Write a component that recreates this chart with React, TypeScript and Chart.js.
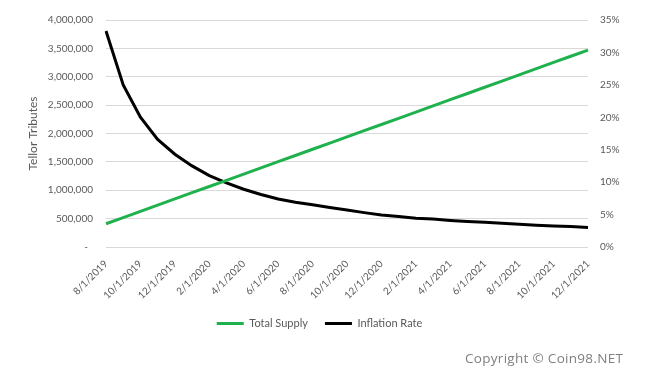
import React, { useEffect, useRef } from 'react';
import { Chart, registerables } from 'chart.js';
Chart.register(...registerables);

const categories = [
  '8/1/2019', '9/1/2019', '10/1/2019', '11/1/2019', '12/1/2019',
  '1/1/2020', '2/1/2020', '3/1/2020', '4/1/2020', '5/1/2020', '6/1/2020',
  '7/1/2020', '8/1/2020', '9/1/2020', '10/1/2020', '11/1/2020', '12/1/2020',
  '1/1/2021', '2/1/2021', '3/1/2021', '4/1/2021', '5/1/2021', '6/1/2021',
  '7/1/2021', '8/1/2021', '9/1/2021', '10/1/2021', '11/1/2021', '12/1/2021',
];

const totalSupply = [
  410000, 519000, 629000, 738000, 847000, 957000, 1066000, 1175000, 1284000,
  1394000, 1503000, 1612000, 1722000, 1831000, 1940000, 2050000, 2159000,
  2268000, 2377000, 2487000, 2596000, 2705000, 2815000, 2924000, 3033000,
  3143000, 3252000, 3361000, 3470000,
];

const inflationRate = [
  33.3, 25.0, 20.0, 16.6, 14.3, 12.5, 11.0, 9.9, 8.9, 8.1, 7.4, 6.9, 6.5,
  6.1, 5.7, 5.3, 4.95, 4.7, 4.45, 4.3, 4.1, 3.95, 3.8, 3.65, 3.5, 3.35,
  3.25, 3.15, 3.0,
];

const GREEN = '#1fb14e';
const TEXT = '#595959';
const FONT = 'Lato, "Open Sans", sans-serif';

export default function App() {
  const ref = useRef<HTMLCanvasElement>(null);
  useEffect(() => {
    document.body.style.margin = '0';
    const chart = new Chart(ref.current!, {
      type: 'line',
      data: {
        labels: categories,
        datasets: [
          {
            label: 'Total Supply',
            data: totalSupply,
            borderColor: GREEN,
            backgroundColor: GREEN,
            borderWidth: 3,
            pointRadius: 0,
            yAxisID: 'y',
          },
          {
            label: 'Inflation Rate',
            data: inflationRate,
            borderColor: '#000000',
            backgroundColor: '#000000',
            borderWidth: 3,
            pointRadius: 0,
            yAxisID: 'y1',
          },
        ],
      },
      options: {
        animation: false,
        responsive: false,
        layout: { padding: { top: 20, left: 0, right: 24, bottom: 39 } },
        plugins: {
          tooltip: { enabled: false },
          legend: {
            position: 'bottom',
            labels: {
              boxWidth: 27,
              boxHeight: 3,
              padding: 17,
              color: TEXT,
              font: { family: FONT, size: 11 },
              generateLabels: (c: any) =>
                c.data.datasets.map((d: any, i: number) => ({
                  text: d.label,
                  fillStyle: d.borderColor,
                  strokeStyle: d.borderColor,
                  lineWidth: 0,
                  fontColor: TEXT,
                  datasetIndex: i,
                  hidden: false,
                })),
            },
          },
        },
        scales: {
          x: {
            grid: { display: false },
            border: { display: false },
            ticks: {
              autoSkip: false,
              maxRotation: 45,
              minRotation: 45,
              padding: 3,
              color: TEXT,
              font: { family: FONT, size: 10 },
              callback: (_v: any, i: number) => (i % 2 === 0 ? categories[i] : ''),
            },
            afterFit: (s: any) => {
              s.height = 54;
            },
          },
          y: {
            position: 'left',
            min: 0,
            max: 4000000,
            ticks: {
              stepSize: 500000,
              padding: 13,
              color: TEXT,
              font: { family: FONT, size: 10 },
              callback: (v: any) => (v === 0 ? '-  ' : Number(v).toLocaleString('en-US')),
            },
            grid: { color: '#d9d9d9', drawTicks: false },
            border: { display: false },
            title: {
              display: true,
              text: 'Tellor Tributes',
              color: TEXT,
              font: { family: FONT, size: 12 },
              padding: { top: 26, bottom: 0 },
            },
            afterFit: (s: any) => {
              s.width = 106;
            },
          },
          y1: {
            position: 'right',
            min: 0,
            max: 35,
            ticks: {
              stepSize: 5,
              padding: 12,
              color: TEXT,
              font: { family: FONT, size: 10 },
              callback: (v: any) => v + '%',
            },
            grid: { display: false, drawTicks: false },
            border: { display: false },
            afterFit: (s: any) => {
              s.width = 51;
            },
          },
        },
      },
    });
    return () => chart.destroy();
  }, []);
  return (
    <div style={{ position: 'relative', width: 663, height: 378, background: '#fff' }}>
      <canvas ref={ref} width={663} height={378} style={{ display: 'block' }} />
      <div
        style={{
          position: 'absolute',
          left: 465,
          top: 349,
          fontFamily: '"Open Sans", sans-serif',
          fontSize: 13.5,
          color: '#7f7f7f',
          letterSpacing: 0.3,
          whiteSpace: 'nowrap',
        }}
      >
        Copyright © Coin98.NET
      </div>
    </div>
  );
}
